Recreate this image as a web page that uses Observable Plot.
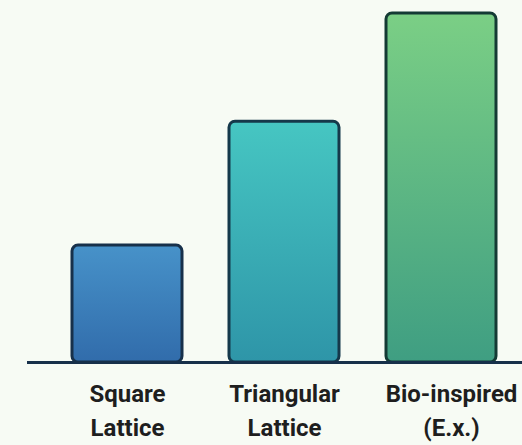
<!DOCTYPE html>
<html>
<head>
<meta charset="utf-8">
<script src="https://cdn.jsdelivr.net/npm/d3@7"></script>
<script src="https://cdn.jsdelivr.net/npm/@observablehq/plot@0.6"></script>
<style>
  html, body { margin: 0; padding: 0; background: #f7fbf4; }
  svg { display: block; }
</style>
</head>
<body>
<div id="chart"></div>
<script>
const categories = ["Square\nLattice", "Triangular\nLattice", "Bio-inspired\n(E.x.)"];
const values = [3.35, 6.9, 10];
const topColors = ["#4792c9", "#46c6c2", "#7bcf85"];
const bottomColors = ["#316cab", "#2e95a8", "#3f9e82"];
const strokeColors = ["#17304a", "#15384a", "#143a34"];

const data = categories.map((c, i) => ({category: c, value: values[i]}));

const barMarks = data.map((d, i) => Plot.barY([d], {
  x: "category",
  y: "value",
  fill: `url(#grad${i})`,
  stroke: strokeColors[i],
  strokeWidth: 3,
  rx: 6
}));

const textOpts = {
  x: "category",
  y: 0,
  text: "category",
  dy: 15,
  lineAnchor: "top",
  lineHeight: 1.42,
  fontSize: 24,
  fontWeight: "bold",
  fill: "#1e1e1e"
};

const plot = Plot.plot({
  width: 522,
  height: 445,
  marginLeft: 27,
  marginRight: 0,
  marginTop: 12,
  marginBottom: 83,
  style: {background: "transparent", fontFamily: "Roboto, 'Liberation Sans', sans-serif"},
  x: {domain: categories, range: [72, 496], paddingInner: 0.3, paddingOuter: 0, axis: null},
  y: {domain: [0, 10], range: [362, 13], axis: null},
  marks: [
    ...barMarks,
    Plot.ruleY([0], {stroke: "#17304a", strokeWidth: 3}),
    Plot.text(data.slice(0, 2), textOpts),
    Plot.text(data.slice(2), {...textOpts, dx: 10})
  ]
});

const ns = "http://www.w3.org/2000/svg";
const defs = document.createElementNS(ns, "defs");
topColors.forEach((c, i) => {
  const g = document.createElementNS(ns, "linearGradient");
  g.setAttribute("id", `grad${i}`);
  g.setAttribute("x1", "0"); g.setAttribute("y1", "0");
  g.setAttribute("x2", "0"); g.setAttribute("y2", "1");
  const s1 = document.createElementNS(ns, "stop");
  s1.setAttribute("offset", "0"); s1.setAttribute("stop-color", c);
  const s2 = document.createElementNS(ns, "stop");
  s2.setAttribute("offset", "1"); s2.setAttribute("stop-color", bottomColors[i]);
  g.appendChild(s1); g.appendChild(s2);
  defs.appendChild(g);
});
plot.insertBefore(defs, plot.firstChild);
document.getElementById("chart").appendChild(plot);
</script>
</body>
</html>
